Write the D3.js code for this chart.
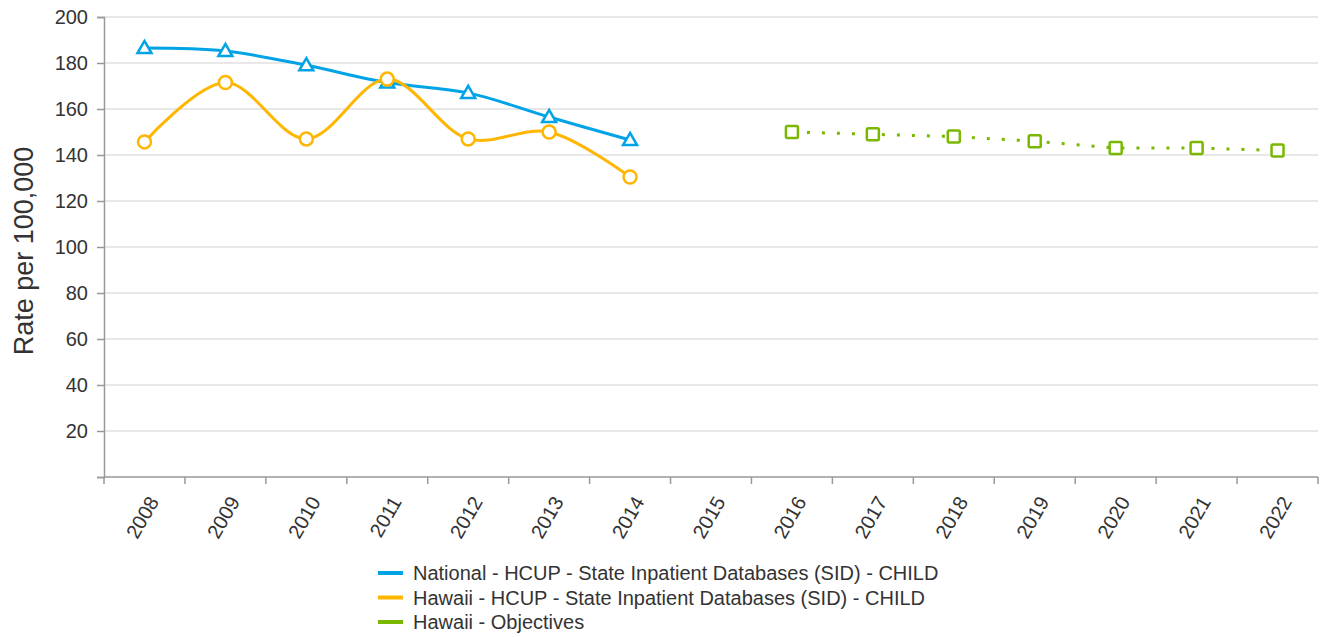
<!DOCTYPE html>
<html>
  <head>
    <meta charset="utf-8" />
    <title>Rate per 100,000</title>
    <script src="https://d3js.org/d3.v7.min.js"></script>
    <style>
      body { margin: 0; background: #fff; }
      text { font-family: "Liberation Sans", Arial, sans-serif; fill: #333; }
    </style>
  </head>
  <body>
    <div id="chart"></div>
    <script>
      const years = ["2008", "2009", "2010", "2011", "2012", "2013", "2014", "2015",
                     "2016", "2017", "2018", "2019", "2020", "2021", "2022"];
      const yTicks = [0, 20, 40, 60, 80, 100, 120, 140, 160, 180, 200];
      const nationalYears = ["2008", "2009", "2010", "2011", "2012", "2013", "2014"];
      const nationalValues = [186.5, 185.2, 179, 171.5, 167, 156.5, 146.5];
      const hawaiiYears = ["2008", "2009", "2010", "2011", "2012", "2013", "2014"];
      const hawaiiValues = [145.7, 171.5, 147, 173, 147, 150, 130.4];
      const objectiveYears = ["2016", "2017", "2018", "2019", "2020", "2021", "2022"];
      const objectiveValues = [150, 149, 148, 146, 143, 143, 142];
      const legendLabels = [
        "National - HCUP - State Inpatient Databases (SID) - CHILD",
        "Hawaii - HCUP - State Inpatient Databases (SID) - CHILD",
        "Hawaii - Objectives"
      ];
      const colors = ["#00a3e6", "#ffb600", "#7ab800"];

      const width = 1320, height = 637;
      const mLeft = 104, mRight = 1318, mTop = 17, mBottom = 477;

      const svg = d3.select("#chart").append("svg")
        .attr("width", width).attr("height", height);

      const x = d3.scaleBand().domain(years).range([mLeft, mRight]);
      const y = d3.scaleLinear().domain([0, 200]).range([mBottom, mTop]);

      // grid
      svg.append("g").selectAll("line").data(yTicks.filter(d => d > 0)).join("line")
        .attr("x1", mLeft).attr("x2", mRight)
        .attr("y1", d => y(d)).attr("y2", d => y(d))
        .attr("stroke", "#e0e0e0").attr("stroke-width", 1.5);

      // y axis
      const yAxis = svg.append("g").attr("transform", `translate(${mLeft},0)`)
        .call(d3.axisLeft(y).tickValues(yTicks).tickSize(7).tickPadding(9)
          .tickFormat(d => d === 0 ? "" : d));
      yAxis.select(".domain").attr("stroke", "#999").attr("stroke-width", 1.5);
      yAxis.selectAll(".tick line").attr("stroke", "#999").attr("stroke-width", 1.5);
      yAxis.selectAll(".tick text").style("font-size", "20px")
        .style("font-family", "Liberation Sans, Arial, sans-serif").attr("fill", "#333");

      // x axis: ticks on band boundaries
      const xAxis = svg.append("g").attr("transform", `translate(0,${mBottom})`);
      xAxis.append("line").attr("x1", mLeft).attr("x2", mRight)
        .attr("stroke", "#999").attr("stroke-width", 1.5);
      const bounds = years.map(d => x(d)).concat([x(years[years.length - 1]) + x.bandwidth()]);
      xAxis.selectAll("line.tk").data(bounds).join("line").attr("class", "tk")
        .attr("x1", d => d).attr("x2", d => d).attr("y1", 0).attr("y2", 7)
        .attr("stroke", "#999").attr("stroke-width", 1.5);
      xAxis.selectAll("text").data(years).join("text")
        .attr("transform", d => `translate(${x(d) + x.bandwidth() / 2 + 9},${21}) rotate(-60)`)
        .attr("text-anchor", "end").attr("dy", "0.35em")
        .style("font-size", "20px").text(d => d);

      // y label
      svg.append("text")
        .attr("transform", `translate(33,${251}) rotate(-90)`)
        .attr("text-anchor", "middle").style("font-size", "27px").text("Rate per 100,000");

      const cx = d => x(d) + x.bandwidth() / 2;
      const line = d3.line().x(d => cx(d[0])).y(d => y(d[1])).curve(d3.curveCatmullRom.alpha(0.5));

      const national = nationalYears.map((d, i) => [d, nationalValues[i]]);
      const hawaii = hawaiiYears.map((d, i) => [d, hawaiiValues[i]]);
      const objectives = objectiveYears.map((d, i) => [d, objectiveValues[i]]);

      svg.append("path").datum(national).attr("d", line)
        .attr("fill", "none").attr("stroke", colors[0]).attr("stroke-width", 3);
      svg.append("path").datum(hawaii).attr("d", line)
        .attr("fill", "none").attr("stroke", colors[1]).attr("stroke-width", 3);
      svg.append("path").datum(objectives).attr("d", d3.line().x(d => cx(d[0])).y(d => y(d[1])))
        .attr("fill", "none").attr("stroke", colors[2]).attr("stroke-width", 3)
        .attr("stroke-dasharray", "3,12");

      // markers
      const tri = d3.symbol().type(d3.symbolTriangle).size(85);
      svg.append("g").selectAll("path").data(national).join("path")
        .attr("d", tri).attr("transform", d => `translate(${cx(d[0])},${y(d[1]) + 1})`)
        .attr("fill", "#fff").attr("stroke", colors[0]).attr("stroke-width", 2.5);
      svg.append("g").selectAll("circle").data(hawaii).join("circle")
        .attr("cx", d => cx(d[0])).attr("cy", d => y(d[1])).attr("r", 6.5)
        .attr("fill", "#fff").attr("stroke", colors[1]).attr("stroke-width", 2.5);
      svg.append("g").selectAll("rect").data(objectives).join("rect")
        .attr("x", d => cx(d[0]) - 6).attr("y", d => y(d[1]) - 6)
        .attr("width", 12).attr("height", 12).attr("rx", 1.5)
        .attr("fill", "#fff").attr("stroke", colors[2]).attr("stroke-width", 2.5);

      // legend
      const lg = svg.append("g").selectAll("g").data(legendLabels).join("g")
        .attr("transform", (d, i) => `translate(378,${573 + i * 24.5})`);
      lg.append("line").attr("x1", 0).attr("x2", 25).attr("y1", 0).attr("y2", 0)
        .attr("stroke", (d, i) => colors[i]).attr("stroke-width", 4);
      lg.append("text").attr("x", 35).attr("dy", "0.35em")
        .style("font-size", "20px").text(d => d);
    </script>
  </body>
</html>
